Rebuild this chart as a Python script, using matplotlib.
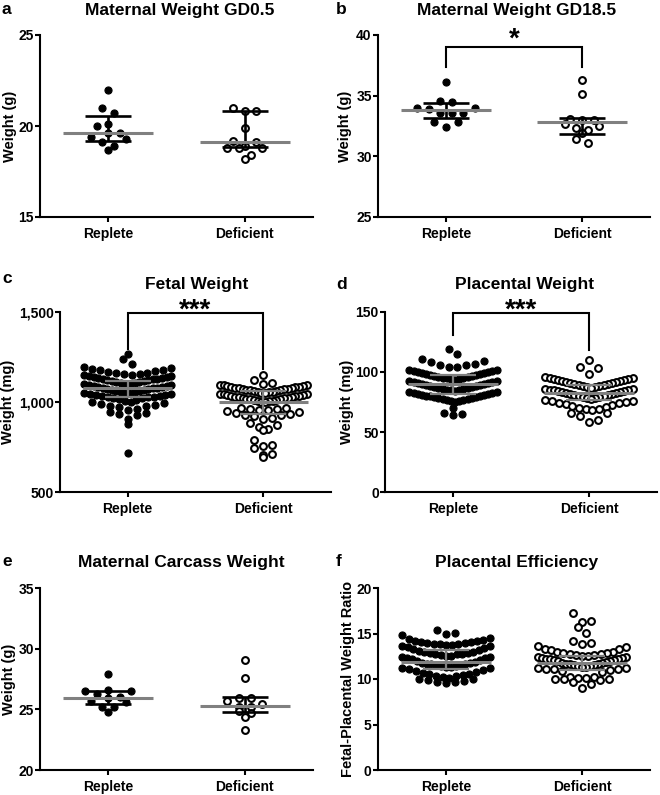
import numpy as np
import matplotlib
matplotlib.use('Agg')
import matplotlib.pyplot as plt
from matplotlib.ticker import FuncFormatter

plt.rcParams['font.family'] = ['Liberation Sans', 'DejaVu Sans']
plt.rcParams['font.weight'] = 'bold'

W, H = 660, 795

groups = ['Replete', 'Deficient']

# ---------------- data ----------------
gd05_replete = [22.0, 21.0, 20.7, 20.1, 20.0, 19.6, 19.6, 19.4, 19.3, 19.1, 18.9, 18.7]
gd05_deficient = [21.0, 20.8, 20.8, 19.9, 19.2, 19.1, 18.9, 18.8, 18.8, 18.8, 18.4, 18.2]
gd05_center = [19.6, 19.1]
gd05_low = [19.2, 18.85]
gd05_high = [20.55, 20.8]

gd185_replete = [36.1, 34.6, 34.5, 34.0, 34.0, 33.9, 33.6, 33.6, 33.6, 32.8, 32.8, 32.4]
gd185_deficient = [36.3, 35.1, 33.1, 33.0, 33.0, 32.7, 32.5, 32.3, 32.2, 31.9, 31.4, 31.1]
gd185_center = [33.85, 32.8]
gd185_low = [33.15, 31.85]
gd185_high = [34.4, 33.15]

fetal_replete = [1265, 1240, 1210,
                 1195, 1190, 1185, 1180, 1175, 1170, 1165, 1162, 1160, 1158, 1155, 1152,
                 1148, 1145, 1142, 1140, 1138, 1135, 1132, 1130, 1128, 1125, 1122, 1120,
                 1118, 1115, 1112, 1110, 1108, 1105, 1102, 1100,
                 1098, 1095, 1092, 1090, 1088, 1085, 1082, 1080, 1078, 1075, 1072, 1070,
                 1068, 1065, 1062, 1060, 1058, 1055, 1052, 1050,
                 1048, 1045, 1042, 1040, 1038, 1035, 1032, 1030, 1028, 1025, 1022, 1020,
                 1015, 1010, 1005, 1002,
                 998, 995, 990, 985, 980, 975, 970, 960, 955,
                 945, 940, 935, 930, 905, 875, 715]
fetal_deficient = [1150, 1120, 1105, 1100,
                   1096, 1094, 1092, 1090, 1088, 1086, 1084, 1082, 1080, 1078, 1076, 1074,
                   1072, 1070, 1068, 1066, 1064, 1062, 1060, 1058, 1056, 1054, 1052, 1050,
                   1046, 1044, 1042, 1040, 1038, 1036, 1034, 1032, 1030, 1028, 1026, 1024,
                   1022, 1020, 1018, 1016, 1014, 1012, 1010, 1008, 1006, 1004, 1002, 1000,
                   968, 966, 963, 960, 957, 953,
                   948, 944, 940, 935, 930, 925, 920, 912, 905,
                   885, 872, 860, 850, 845,
                   790, 760, 755, 743, 711, 705, 696]
fetal_center = [1075, 998]
fetal_low = [1030, 932]
fetal_high = [1118, 1061]

placental_replete = [119, 115,
                     110.5, 109.5, 108.5, 106.5, 105.8, 105.5, 104.5, 104,
                     101.8, 101.4, 101.0, 100.6, 100.2, 99.8, 99.4, 99.0, 98.6, 98.2, 97.8,
                     97.4, 97.0, 96.6, 96.2, 95.8, 95.4, 95.0, 94.6, 94.2, 93.8, 93.4,
                     92.6, 92.2, 91.8, 91.4, 91.0, 90.6, 90.2, 89.8, 89.4, 89.0, 88.6,
                     88.2, 87.8, 87.4, 87.0, 86.6, 86.2, 85.8, 85.4, 85.0, 84.6, 84.2,
                     83.6, 83.2, 82.8, 82.4, 82.0, 81.6, 81.2, 80.8, 80.4, 80.0, 79.6,
                     79.2, 78.8, 78.4, 78.0, 77.6, 77.2, 76.8, 76.4, 76.0, 75.6, 75.2,
                     70.0, 65.8, 65.0, 64.0]
placental_deficient = [110, 104.5, 103.5, 98.5,
                       95.5, 95.0, 94.6, 94.2, 93.8, 93.4, 93.0, 92.6, 92.2, 91.8, 91.4,
                       91.0, 90.6, 90.2, 89.8, 89.4, 89.0, 88.6, 88.2, 87.8, 87.4, 87.0,
                       86.2, 85.8, 85.4, 85.0, 84.6, 84.2, 83.8, 83.4, 83.0, 82.6, 82.2,
                       81.8, 81.4, 81.0, 80.6, 80.2, 79.8, 79.4, 79.0, 78.6, 78.2, 77.8,
                       76.5, 76.0, 75.5, 75.0, 74.5, 74.0, 73.2, 72.5, 71.8, 71.0, 70.2,
                       69.5, 68.8, 68.0,
                       66.0, 65.5, 63.0, 60.0, 58.5]
placental_center = [89.8, 82.8]
placental_low = [82.0, 76.8]
placental_high = [97.3, 89.2]

carcass_replete = [27.9, 26.6, 26.5, 26.5, 26.3, 26.0, 25.9, 25.7, 25.6, 25.2, 25.2, 24.8]
carcass_deficient = [29.1, 27.6, 25.9, 25.9, 25.7, 25.4, 25.2, 25.2, 24.9, 24.7, 24.4, 23.3]
carcass_center = [25.9, 25.3]
carcass_low = [25.45, 24.8]
carcass_high = [26.5, 26.05]

efficiency_replete = [15.35, 15.1, 15.0, 14.8, 14.5, 14.45,
                      14.25, 14.2, 14.15, 14.1, 14.05, 14.0, 13.95, 13.9, 13.85, 13.8,
                      13.75, 13.7, 13.65, 13.6, 13.5, 13.4, 13.3, 13.2,
                      13.05, 13.0, 12.95, 12.9, 12.85, 12.8, 12.75, 12.7, 12.6, 12.55,
                      12.5, 12.45, 12.4, 12.35, 12.3, 12.2, 12.1, 12.0,
                      11.85, 11.8, 11.75, 11.7, 11.65, 11.6, 11.55, 11.5, 11.45, 11.4,
                      11.35, 11.3, 11.25, 11.2, 11.1, 11.0, 10.9, 10.8,
                      10.65, 10.6, 10.5, 10.45, 10.35, 10.3, 10.2, 10.1, 10.0, 9.95,
                      9.9, 9.8, 9.7, 9.65, 9.55]
efficiency_deficient = [17.2, 16.4, 16.3, 15.75, 15.1,
                        14.15, 14.0, 13.9, 13.65, 13.55, 13.3, 13.3, 13.2,
                        13.0, 12.95, 12.9, 12.85, 12.8, 12.7, 12.65, 12.6, 12.55, 12.5,
                        12.45, 12.4, 12.35, 12.3, 12.25, 12.2, 12.15, 12.1, 12.05, 12.0, 11.95,
                        11.85, 11.8, 11.75, 11.7, 11.65, 11.6, 11.55, 11.5, 11.45, 11.4,
                        11.35, 11.3, 11.25, 11.2, 11.15, 11.1, 11.05, 11.0, 10.9, 10.8,
                        10.25, 10.2, 10.15, 10.1, 10.0, 10.0, 9.95, 9.9, 9.7, 9.5, 9.05]
efficiency_center = [11.9, 11.75]
efficiency_low = [11.05, 11.0]
efficiency_high = [13.2, 12.55]

# ---------------- helpers ----------------
fig = plt.figure(figsize=(W / 100, H / 100), dpi=100)


def add_ax(l, t, r, b):
    return fig.add_axes([l / W, 1 - b / H, (r - l) / W, (b - t) / H])


def fig_text(x, y, s, **kw):
    fig.text(x / W, 1 - y / H, s, **kw)


def swarm(values, bin_h, origin, spacing=0.056, max_half=0.32):
    v = np.asarray(values, float)
    idx = np.floor((v - origin) / bin_h + 1e-9).astype(int)
    off = np.zeros(len(v))
    for b in np.unique(idx):
        mem = np.where(idx == b)[0]
        n = len(mem)
        s = spacing if n <= 1 else min(spacing, 2 * max_half / (n - 1))
        slots = (np.arange(n) - (n - 1) / 2) * s
        order = sorted(range(n), key=lambda k: (-abs(slots[k]), slots[k]))
        mem_sorted = mem[np.argsort(-v[mem], kind='stable')]
        for m, k in zip(mem_sorted, order):
            off[m] = slots[k]
    return off


GRAY = '#808080'


def panel(box, data, bins, center, low, high, ylim, yticks, ylabel, ylabel_px,
          dense=False, fmt=None):
    l, t, r, b = box
    ax = add_ax(l, t, r, b)
    spacing = 0.066 if dense else 0.085
    for i, (vals, (bh, org)) in enumerate(zip(data, bins)):
        off = swarm(vals, bh, org, spacing=spacing)
        if i == 0:
            ax.scatter(i + off, vals, s=26, facecolor='black', edgecolor='black',
                       linewidth=0.8, zorder=2)
        else:
            ax.scatter(i + off, vals, s=24, facecolor='white', edgecolor='black',
                       linewidth=1.5, zorder=2)
    for i in range(2):
        ecol = GRAY if dense else 'black'
        elw = 1.6 if dense else 1.9
        ax.plot([i, i], [low[i], high[i]], color=ecol, lw=elw, zorder=3,
                solid_capstyle='butt')
        ax.plot([i - 0.17, i + 0.17], [low[i], low[i]], color=ecol, lw=elw, zorder=3,
                solid_capstyle='butt')
        ax.plot([i - 0.17, i + 0.17], [high[i], high[i]], color=ecol, lw=elw, zorder=3,
                solid_capstyle='butt')
        ax.plot([i - 0.33, i + 0.33], [center[i], center[i]], color=GRAY, lw=2.2,
                zorder=4, solid_capstyle='butt')
    ax.set_xlim(-0.5, 1.5)
    ax.set_ylim(*ylim)
    ax.set_yticks(yticks)
    if fmt is not None:
        ax.yaxis.set_major_formatter(FuncFormatter(fmt))
    ax.set_xticks([0, 1])
    ax.set_xticklabels(groups)
    for sp in ['top', 'right']:
        ax.spines[sp].set_visible(False)
    for sp in ['left', 'bottom']:
        ax.spines[sp].set_linewidth(1.5)
    ax.tick_params(axis='both', width=1.5, length=3.5, labelsize=10)
    ax.tick_params(axis='x', pad=4)
    ax.tick_params(axis='y', pad=1)
    for lab in ax.get_xticklabels() + ax.get_yticklabels():
        lab.set_fontweight('bold')
    ax.set_ylabel(ylabel, fontsize=10.5, fontweight='bold')
    ax.yaxis.set_label_coords((ylabel_px - l) / (r - l), 0.5)
    return ax


def bracket(ax, y_top, y_left, y_right, stars, star_px, box):
    ax.plot([0, 0, 1, 1], [y_left, y_top, y_top, y_right], color='black', lw=1.5,
            clip_on=False, zorder=5, solid_joinstyle='miter')
    l, t, r, b = box
    x_px = l + (r - l) * 0.5
    fig_text(x_px, star_px + 12, stars, fontsize=20, fontweight='bold',
             ha='center', va='baseline')


# ---------------- panels ----------------
boxA = (40, 35, 313, 217)
boxB = (378, 35, 650, 217)
boxC = (60, 312, 331, 492)
boxD = (385, 312, 657, 492)
boxE = (40, 588, 313, 770)
boxF = (378, 588, 650, 770)

axA = panel(boxA, [gd05_replete, gd05_deficient], [(0.6, 0.3), (0.6, 0.3)],
            gd05_center, gd05_low, gd05_high, (15, 25), [15, 20, 25], 'Weight (g)', 17)
axB = panel(boxB, [gd185_replete, gd185_deficient], [(0.7, 0.0), (0.7, 0.0)],
            gd185_center, gd185_low, gd185_high, (25, 40), [25, 30, 35, 40], 'Weight (g)', 352)
axC = panel(boxC, [fetal_replete, fetal_deficient], [(50, 0), (50, 0)],
            fetal_center, fetal_low, fetal_high, (500, 1500), [500, 1000, 1500],
            'Weight (mg)', 15, dense=True, fmt=lambda v, p: f'{int(v):,}')
axD = panel(boxD, [placental_replete, placental_deficient], [(9.0, 3.0), (9.5, 1.0)],
            placental_center, placental_low, placental_high, (0, 150), [0, 50, 100, 150],
            'Weight (mg)', 354, dense=True)
axE = panel(boxE, [carcass_replete, carcass_deficient], [(0.7, 0.0), (0.7, 0.0)],
            carcass_center, carcass_low, carcass_high, (20, 35), [20, 25, 30, 35],
            'Weight (g)', 16)
axF = panel(boxF, [efficiency_replete, efficiency_deficient], [(1.2, 0.5), (1.2, 0.5)],
            efficiency_center, efficiency_low, efficiency_high, (0, 20), [0, 5, 10, 15, 20],
            'Fetal-Placental Weight Ratio', 355, dense=True)

bracket(axB, 39.0, 37.4, 37.4, '*', 35, boxB)
bracket(axC, 1493, 1294, 1183, '***', 306, boxC)
bracket(axD, 149, 131, 118, '***', 306, boxD)

# titles and panel letters
titles = [('a', 'Maternal Weight GD0.5', 180, 10),
          ('b', 'Maternal Weight GD18.5', 517, 10),
          ('c', 'Fetal Weight', 197, 285),
          ('d', 'Placental Weight', 525, 285),
          ('e', 'Maternal Carcass Weight', 181, 562),
          ('f', 'Placental Efficiency', 517, 562)]
letter_x = {'a': 2, 'b': 336, 'c': 2, 'd': 336, 'e': 2, 'f': 336}
letter_dy = {'a': 0, 'b': 0, 'c': -6, 'd': 0, 'e': 0, 'f': 0}
for let, ttl, tx, ty in titles:
    fig_text(tx, ty, ttl, fontsize=12.5, fontweight='bold', ha='center', va='center')
    fig_text(letter_x[let], ty + letter_dy[let], let, fontsize=12.5, fontweight='bold',
             ha='left', va='center')

fig.savefig('out.png', dpi=100)
